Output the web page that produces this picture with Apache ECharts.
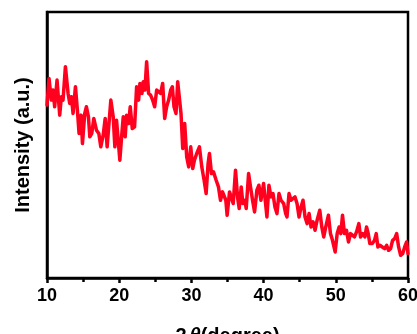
<!DOCTYPE html>
<html>
<head>
<meta charset="utf-8">
<script src="https://cdn.jsdelivr.net/npm/echarts@6/dist/echarts.min.js"></script>
<style>html,body{margin:0;padding:0;background:#fff}#c{width:417px;height:334px}</style>
</head>
<body>
<div id="c"></div>
<script>
const xTicks = [10, 20, 30, 40, 50, 60];
const twoTheta = [10.00,10.28,10.60,10.83,11.06,11.39,11.76,11.99,12.22,12.55,12.92,13.15,13.38,13.61,13.94,14.21,14.44,14.72,14.91,15.23,15.46,15.74,15.93,16.20,16.48,16.85,17.18,17.45,17.78,18.06,18.33,18.52,18.84,19.17,19.40,19.63,19.86,20.09,20.37,20.56,20.83,21.02,21.30,21.53,21.81,22.13,22.41,22.69,22.87,23.15,23.33,23.56,23.80,24.07,24.35,24.63,24.91,25.19,25.46,25.74,26.02,26.30,26.57,26.85,27.13,27.36,27.59,27.87,28.10,28.33,28.56,28.80,29.07,29.35,29.63,29.91,30.19,30.42,30.74,31.11,31.44,31.76,32.04,32.31,32.50,32.78,33.06,33.43,33.75,34.03,34.31,34.54,34.77,34.95,35.28,35.51,35.79,36.11,36.39,36.62,36.90,37.13,37.41,37.59,37.92,38.19,38.47,38.75,39.07,39.35,39.63,40.00,40.23,40.46,40.74,41.02,41.30,41.57,41.85,42.13,42.41,42.78,43.06,43.24,43.52,43.80,44.07,44.35,44.63,44.91,45.19,45.46,45.74,46.02,46.30,46.57,46.85,47.13,47.41,47.78,48.06,48.33,48.61,48.98,49.26,49.54,49.91,50.19,50.46,50.69,50.93,51.20,51.48,51.76,52.04,52.31,52.59,52.87,53.19,53.43,53.75,54.03,54.26,54.49,54.72,55.05,55.37,55.60,55.83,56.11,56.44,56.76,57.04,57.31,57.59,57.87,58.15,58.43,58.70,58.98,59.26,59.54,59.81,60.00];
const intensity = [518,598,533,563,513,593,488,543,533,633,553,523,543,493,573,503,433,488,403,493,513,483,423,433,478,443,433,393,428,478,393,388,533,483,393,473,468,353,433,483,423,488,463,513,448,453,573,533,583,553,588,563,648,553,548,533,513,563,568,553,583,478,513,533,563,573,513,493,588,588,493,388,463,363,333,393,328,353,373,393,333,293,253,343,373,313,318,293,273,233,258,253,233,188,258,253,223,323,243,208,273,223,233,208,313,273,233,198,263,278,233,283,233,183,278,243,253,213,193,253,233,223,193,183,253,233,233,243,223,183,213,233,183,163,193,153,168,143,173,203,153,123,153,188,133,113,78,133,153,133,188,133,143,108,133,133,123,138,163,123,133,123,153,133,103,103,113,133,93,98,93,88,98,83,88,113,118,133,93,68,73,93,108,73];

const data = twoTheta.map((x, i) => [x, intensity[i]]);
const chart = echarts.init(document.getElementById('c'), null, {renderer: 'canvas'});
const F = 'Arial, "Liberation Sans", sans-serif';
chart.setOption({
  animation: false,
  backgroundColor: '#fff',
  grid: {left: 47, right: 9, top: 12, bottom: 56, outerBoundsMode: 'none', containLabel: false, show: true, borderColor: '#000', borderWidth: 2.5, backgroundColor: 'transparent'},
  xAxis: {
    type: 'value', min: 10, max: 60, interval: 10,
    axisLine: {show: true, lineStyle: {color: '#000', width: 2.5}},
    axisTick: {show: true, inside: false, length: 5, lineStyle: {color: '#000', width: 2.5}},
    minorTick: {show: true, splitNumber: 2, length: 4, lineStyle: {color: '#000', width: 2.5}},
    splitLine: {show: false},
    axisLabel: {
      color: '#000', fontFamily: F, fontWeight: 'bold', fontSize: 18, margin: 9,
      formatter: v => xTicks.includes(v) ? String(v) : ''
    },
    name: '{a|2}{b|θ}{a|(degree)}',
    nameLocation: 'middle', nameGap: 48,
    nameTextStyle: {
      rich: {
        a: {fontFamily: F, fontWeight: 'bold', fontSize: 20, color: '#000'},
        b: {fontFamily: F, fontWeight: 'bold', fontStyle: 'italic', fontSize: 20, color: '#000', padding: [0, 0, 0, 3]}
      }
    }
  },
  yAxis: {
    type: 'value', min: 0, max: 797,
    axisLine: {show: true, lineStyle: {color: '#000', width: 2.5}},
    axisTick: {show: false},
    axisLabel: {show: false},
    splitLine: {show: false},
    name: 'Intensity (a.u.)',
    nameLocation: 'middle', nameGap: 14,
    nameTextStyle: {fontFamily: F, fontWeight: 'bold', fontSize: 20, color: '#000'}
  },
  series: [{
    type: 'line', data: data, showSymbol: false, smooth: false,
    lineStyle: {color: '#ff001e', width: 3.5, join: 'round', cap: 'round'},
    itemStyle: {color: '#ff001e'}
  }]
});
</script>
</body>
</html>
